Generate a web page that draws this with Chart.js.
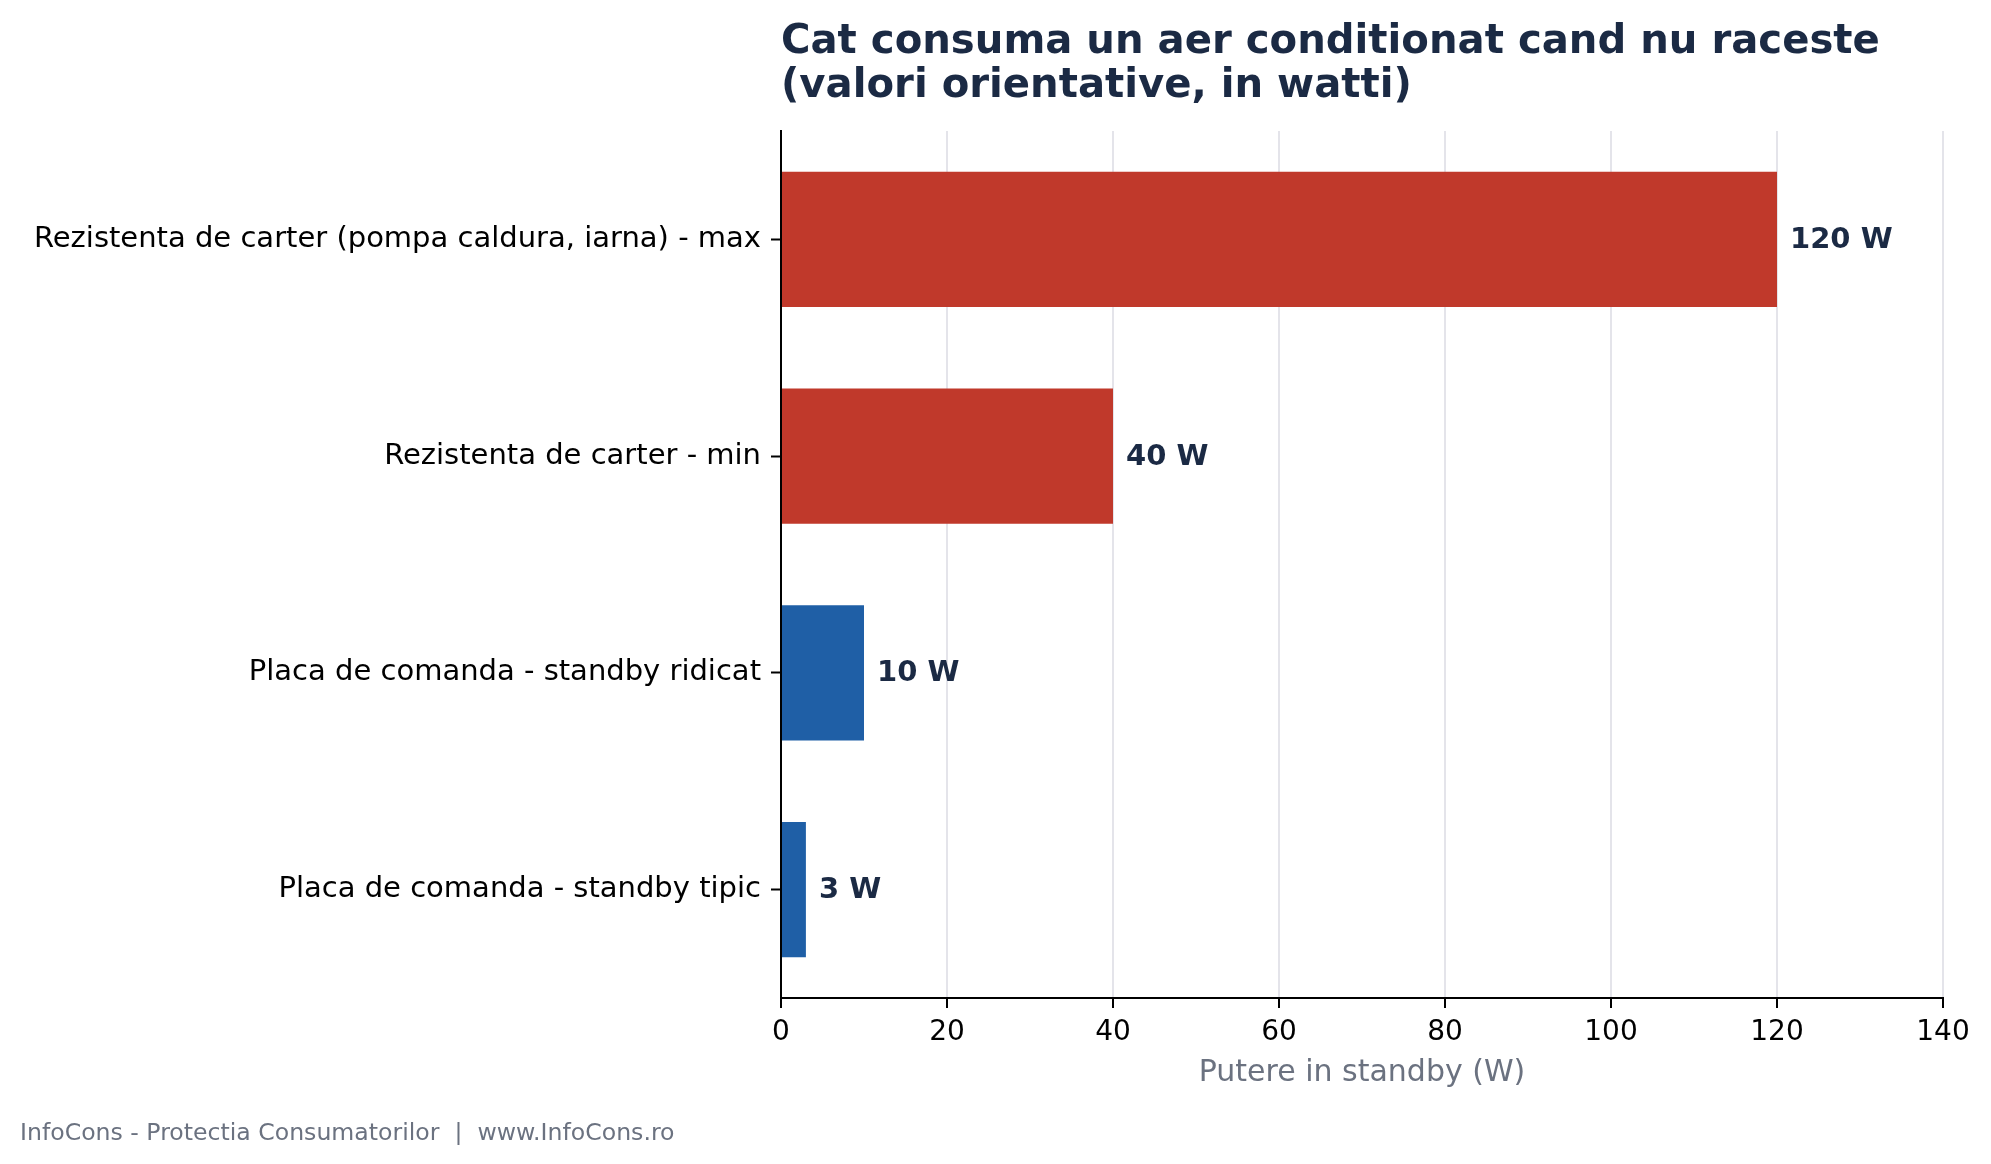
<!DOCTYPE html>
<html>
<head>
<meta charset="utf-8">
<title>Cat consuma un aer conditionat cand nu raceste</title>
<script src="https://cdn.jsdelivr.net/npm/chart.js@4/dist/chart.umd.min.js"></script>
<style>
	html, body { margin: 0; padding: 0; background: #ffffff; }
	#wrap { width: 1991px; height: 1164px; }
</style>
</head>
<body>
<div id="wrap"><canvas id="chart" width="1991" height="1164"></canvas></div>
<script>
// data
const categories = [
	"Rezistenta de carter (pompa caldura, iarna) - max",
	"Rezistenta de carter - min",
	"Placa de comanda - standby ridicat",
	"Placa de comanda - standby tipic",
];
const values = [120, 40, 10, 3];
const groups = ["carter", "carter", "placa", "placa"];
const xTicksMax = 140;
const xTicksStep = 20;

const titleLines = [
	"Cat consuma un aer conditionat cand nu raceste",
	"(valori orientative, in watti)",
];
const xTitle = "Putere in standby (W)";
const footer = "InfoCons - Protectia Consumatorilor  |  www.InfoCons.ro";

// styles
const FONT = "'DejaVu Sans', 'Noto Sans', sans-serif";
const NAVY = "#1b2a44";
const GRAY = "#6b7280";
const GRID = "#e4e4ea";
const groupColors = { carter: "#c0392b", placa: "#1f5fa6" };

const titleAndFooter = {
	id: "titleAndFooter",
	afterDraw(chart) {
		const { ctx, chartArea } = chart;
		ctx.save();
		ctx.fillStyle = NAVY;
		ctx.font = "bold 40.2px " + FONT;
		ctx.textAlign = "left";
		ctx.textBaseline = "alphabetic";
		ctx.fillText(titleLines[0], chartArea.left, 53);
		ctx.fillText(titleLines[1], chartArea.left, 97);

		ctx.fillStyle = GRAY;
		ctx.font = "23.6px " + FONT;
		ctx.textBaseline = "middle";
		ctx.fillText(footer, 20, 1134);
		ctx.restore();
	},
};

const valueLabels = {
	id: "valueLabels",
	afterDatasetsDraw(chart) {
		const { ctx } = chart;
		const meta = chart.getDatasetMeta(0);
		ctx.save();
		ctx.fillStyle = NAVY;
		ctx.font = "bold 29px " + FONT;
		ctx.textAlign = "left";
		ctx.textBaseline = "middle";
		meta.data.forEach((bar, i) => {
			ctx.fillText(values[i] + " W", bar.x + 13, bar.y + 1);
		});
		ctx.restore();
	},
};

const data = {
	labels: categories,
	datasets: [
		{
			data: values,
			backgroundColor: groups.map((g) => groupColors[g]),
			barPercentage: 0.623,
			categoryPercentage: 1,
		},
	],
};

const options = {
	indexAxis: "y",
	responsive: false,
	animation: false,
	devicePixelRatio: 1,
	layout: {
		padding: { top: 131, right: 48, bottom: 66, left: 0 },
	},
	plugins: {
		legend: { display: false },
		title: { display: false },
		tooltip: { enabled: false },
	},
	scales: {
		x: {
			min: 0,
			max: xTicksMax,
			ticks: {
				stepSize: xTicksStep,
				color: "#000",
				font: { family: FONT, size: 28 },
				padding: 8,
			},
			grid: {
				color: GRID,
				lineWidth: 2,
				tickColor: "#000",
				tickLength: 10,
				tickWidth: 2,
			},
			border: { color: "#000", width: 2 },
			title: {
				display: true,
				text: xTitle,
				color: GRAY,
				font: { family: FONT, size: 30 },
				padding: { top: 0, bottom: 7 },
			},
			afterFit: (scale) => {
				scale.height = 100;
			},
		},
		y: {
			ticks: {
				color: "#000",
				font: { family: FONT, size: 29 },
				padding: 10,
			},
			grid: {
				offset: false,
				drawOnChartArea: false,
				tickColor: "#000",
				tickLength: 10,
				tickWidth: 2,
			},
			border: { color: "#000", width: 2 },
			afterFit: (scale) => {
				scale.width = 781;
			},
		},
	},
};

new Chart(document.querySelector("#chart"), {
	type: "bar",
	data,
	options,
	plugins: [valueLabels, titleAndFooter],
});
</script>
</body>
</html>
